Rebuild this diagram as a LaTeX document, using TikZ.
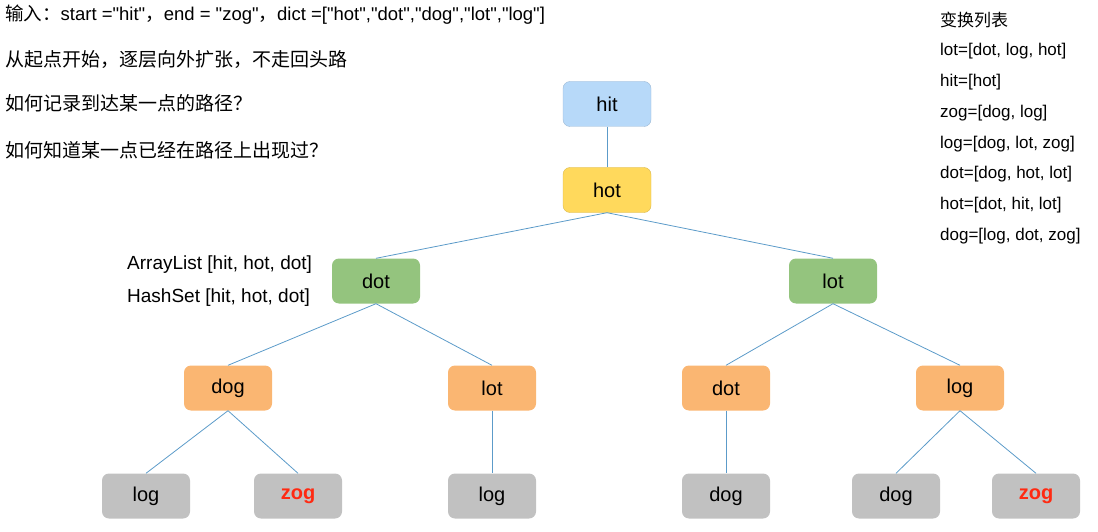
\documentclass[tikz,border=0pt]{standalone}
\usepackage{fontspec}
\setmainfont{Liberation Sans}[Ligatures=TeXOff]
\newfontfamily\cjk{Noto Sans CJK SC}
\usepackage{tikz}

\definecolor{hitfill}{HTML}{B7D9F9}
\definecolor{hotfill}{HTML}{FFD95C}
\definecolor{greenfill}{HTML}{94C47E}
\definecolor{orangefill}{HTML}{FAB672}
\definecolor{grayfill}{HTML}{C1C1C1}
\definecolor{edgeblue}{HTML}{5C9BC9}
\definecolor{endred}{HTML}{FF2A12}

\begin{document}
\begin{tikzpicture}[x=1pt, y=-1pt, line join=round,
  box/.style={rounded corners=7pt, minimum width=88pt, minimum height=45pt,
    inner sep=0pt, font=\fontsize{20}{22}\selectfont},
  start/.style={box, fill=hitfill, draw=hitfill!85!black, line width=0.4pt},
  first/.style={box, fill=hotfill, draw=hotfill!85!black, line width=0.4pt},
  second/.style={box, fill=greenfill},
  third/.style={box, fill=orangefill},
  fourth/.style={box, fill=grayfill},
  target/.style={text=endred, font=\fontsize{20}{22}\selectfont\bfseries},
  link/.style={edgeblue, line width=0.8pt},
  note/.style={anchor=west, inner sep=0pt, font=\fontsize{19}{22}\selectfont},
  table/.style={anchor=west, inner sep=0pt, font=\fontsize{17}{20}\selectfont}]
\useasboundingbox (0,0) rectangle (1098,532);
% Notes at the top left
\node[note, font=\fontsize{18.5}{22}\selectfont] (input) at (5,15) {{\cjk 输入：}start ="hit"{\cjk ，}end = "zog"{\cjk ，}dict =["hot","dot","dog","lot","log"]};
\node[note] (idea) at (5,60) {\cjk 从起点开始，逐层向外扩张，不走回头路};
\node[note] (askpath) at (5,103) {\cjk 如何记录到达某一点的路径？};
\node[note] (askseen) at (5,150) {\cjk 如何知道某一点已经在路径上出现过？};
% Transform table at the right
\node[table] (tabletitle) at (940,20) {\cjk 变换列表};
\node[table] (tlot) at (940,51) {lot=[dot, log, hot]};
\node[table] (thit) at (940,82) {hit=[hot]};
\node[table] (tzog) at (940,113) {zog=[dog, log]};
\node[table] (tlog) at (940,144) {log=[dog, lot, zog]};
\node[table] (tdot) at (940,174) {dot=[dog, hot, lot]};
\node[table] (thot) at (940,205) {hot=[dot, hit, lot]};
\node[table] (tdog) at (940,236) {dog=[log, dot, zog]};
% Path record beside dot
\node[note] (arraylist) at (127,265) {ArrayList [hit, hot, dot]};
\node[note] (hashset) at (127,298) {HashSet [hit, hot, dot]};
% Tree levels
\node[start] (hit) at (607,104) {hit};
\node[first] (hot) at (607,190) {hot};
\node[second] (dotA) at (376,281) {dot};
\node[second] (lotA) at (833,281) {lot};
\node[third] (dogB) at (228,388) {dog};
\node[third] (lotB) at (492,388) {lot};
\node[third] (dotB) at (726,388) {dot};
\node[third] (logB) at (960,388) {log};
\node[fourth] (logC) at (146,496) {log};
\node[fourth, target] (zogC) at (298,496) {zog};
\node[fourth] (logD) at (492,496) {log};
\node[fourth] (dogC) at (726,496) {dog};
\node[fourth] (dogD) at (896,496) {dog};
\node[fourth, target] (zogD) at (1036,496) {zog};
% Links
\draw[link] (hit.south) -- (hot.north);
\draw[link] (hot.south) -- (dotA.north);
\draw[link] (hot.south) -- (lotA.north);
\draw[link] (dotA.south) -- (dogB.north);
\draw[link] (dotA.south) -- (lotB.north);
\draw[link] (lotA.south) -- (dotB.north);
\draw[link] (lotA.south) -- (logB.north);
\draw[link] (dogB.south) -- (logC.north);
\draw[link] (dogB.south) -- (zogC.north);
\draw[link] (lotB.south) -- (logD.north);
\draw[link] (dotB.south) -- (dogC.north);
\draw[link] (logB.south) -- (dogD.north);
\draw[link] (logB.south) -- (zogD.north);
\end{tikzpicture}
\end{document}
